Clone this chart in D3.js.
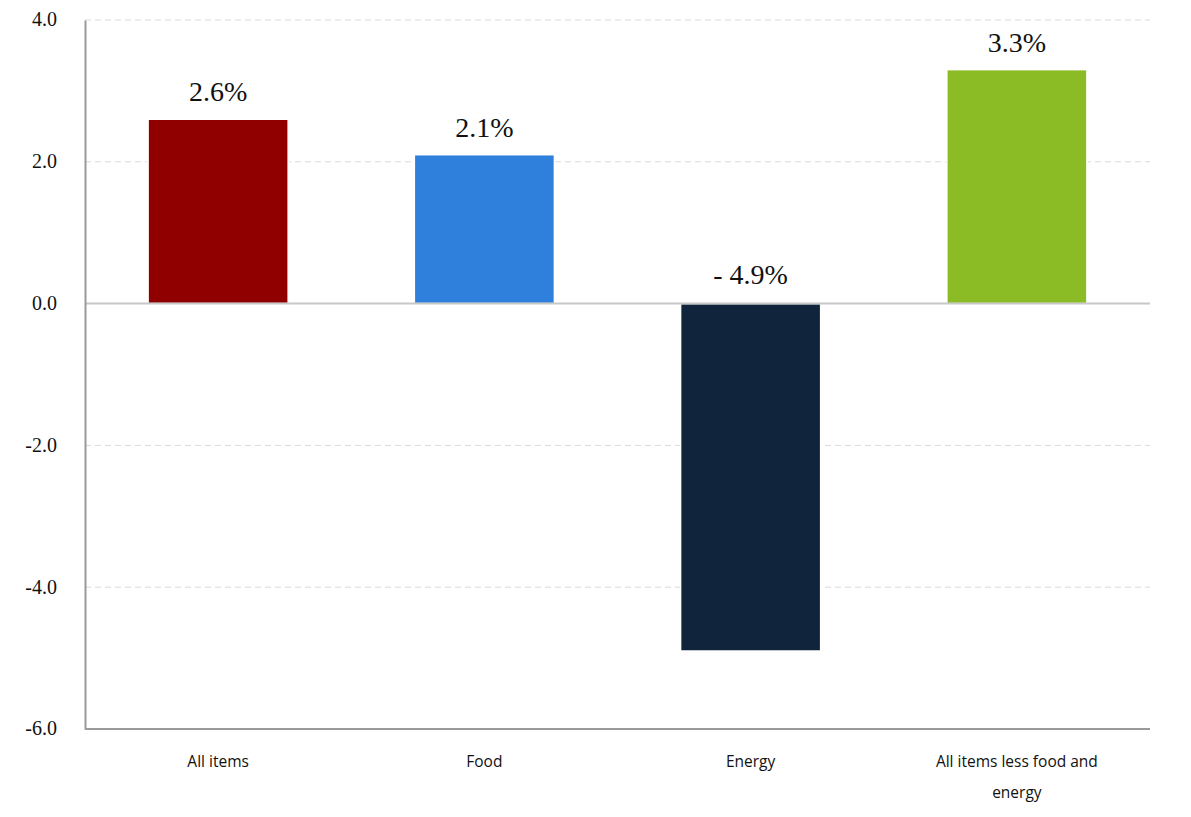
<!DOCTYPE html>
<html>
<head>
<meta charset="utf-8">
<script src="https://cdn.jsdelivr.net/npm/d3@7"></script>
<style>
  body { margin: 0; background: #fff; }
  .ytick { font-family: "Liberation Serif", "Times New Roman", serif; font-size: 20px; fill: #111; }
</style>
</head>
<body>
<div id="chart"></div>
<script>
// CPI 12-month percent change by category
const categories = ['All items', 'Food', 'Energy', 'All items less food and energy'];
const values = [2.6, 2.1, -4.9, 3.3];
const barColors = ['#900000', '#2e80dc', '#10243b', '#8bbc25'];
const yTicks = [-6, -4, -2, 0, 2, 4];
const yTickLabels = ['-6.0', '-4.0', '-2.0', '0.0', '2.0', '4.0'];

const W = 1191, H = 817;
const margin = { top: 20, right: 41, bottom: 88, left: 85 };
const width = W - margin.left - margin.right;
const height = H - margin.top - margin.bottom;

const svg = d3.select('#chart').append('svg')
  .attr('width', W).attr('height', H);

const g = svg.append('g')
  .attr('transform', `translate(${margin.left},${margin.top})`);

const x = d3.scaleBand()
  .domain(categories).range([0, width])
  .paddingInner(0.474).paddingOuter(0.237);

const y = d3.scaleLinear().domain([-6, 4]).range([height, 0]);

// Gridlines (dashed), skip zero and bottom
g.append('g')
  .selectAll('line')
  .data(yTicks.filter(t => t !== 0 && t !== -6))
  .join('line')
  .attr('x1', 0).attr('x2', width)
  .attr('y1', d => y(d)).attr('y2', d => y(d))
  .attr('stroke', '#d9d9d9').attr('stroke-width', 1)
  .attr('stroke-dasharray', '6,4');

// Bars
g.selectAll('.bar')
  .data(values)
  .join('rect')
  .attr('class', 'bar')
  .attr('x', (d, i) => x(categories[i]))
  .attr('y', d => y(Math.max(0, d)))
  .attr('width', x.bandwidth())
  .attr('height', d => Math.abs(y(d) - y(0)))
  .attr('fill', (d, i) => barColors[i])
  .attr('stroke', '#fff').attr('stroke-width', 1.5);

// Zero line
g.append('line')
  .attr('x1', 0).attr('x2', width)
  .attr('y1', y(0)).attr('y2', y(0))
  .attr('stroke', '#c8c8c8').attr('stroke-width', 2);

// Left axis (line only, labels drawn below)
const yAxis = g.append('g')
  .call(d3.axisLeft(y).tickValues(yTicks).tickSize(0).tickFormat(''));
yAxis.select('.domain').attr('stroke', '#9a9a9a').attr('stroke-width', 2);

g.append('g')
  .selectAll('text')
  .data(yTicks)
  .join('text')
  .attr('class', 'ytick')
  .attr('x', -28)
  .attr('y', d => y(d))
  .attr('dy', '0.32em')
  .attr('text-anchor', 'end')
  .text((d, i) => yTickLabels[i]);

// Bottom axis line
g.append('line')
  .attr('x1', 0).attr('x2', width)
  .attr('y1', height).attr('y2', height)
  .attr('stroke', '#9a9a9a').attr('stroke-width', 2);

// Value labels
g.selectAll('.val')
  .data(values)
  .join('text')
  .attr('class', 'val')
  .attr('x', (d, i) => x(categories[i]) + x.bandwidth() / 2)
  .attr('y', d => y(Math.max(0, d)) - (d < 0 ? 20 : 18))
  .attr('text-anchor', 'middle')
  .attr('font-family', '"Liberation Serif", serif')
  .attr('font-size', '28px').attr('fill', '#111')
  .text(d => d < 0 ? `- ${Math.abs(d).toFixed(1)}%` : `${d.toFixed(1)}%`);

// Category labels (wrapped)
function wrapWords(text, maxChars) {
  const words = text.split(' ');
  const lines = [];
  let line = '';
  words.forEach(w => {
    const test = line ? line + ' ' + w : w;
    if (test.length > maxChars && line) { lines.push(line); line = w; }
    else line = test;
  });
  if (line) lines.push(line);
  return lines;
}

categories.forEach(c => {
  const t = g.append('text')
    .attr('x', x(c) + x.bandwidth() / 2)
    .attr('y', height + 38)
    .attr('text-anchor', 'middle')
    .attr('font-family', '"Open Sans", sans-serif')
    .attr('font-size', '15.5px').attr('fill', '#111');
  wrapWords(c, 24).forEach((ln, i) => {
    t.append('tspan')
      .attr('x', x(c) + x.bandwidth() / 2)
      .attr('dy', i === 0 ? 0 : 31)
      .text(ln);
  });
});
</script>
</body>
</html>
